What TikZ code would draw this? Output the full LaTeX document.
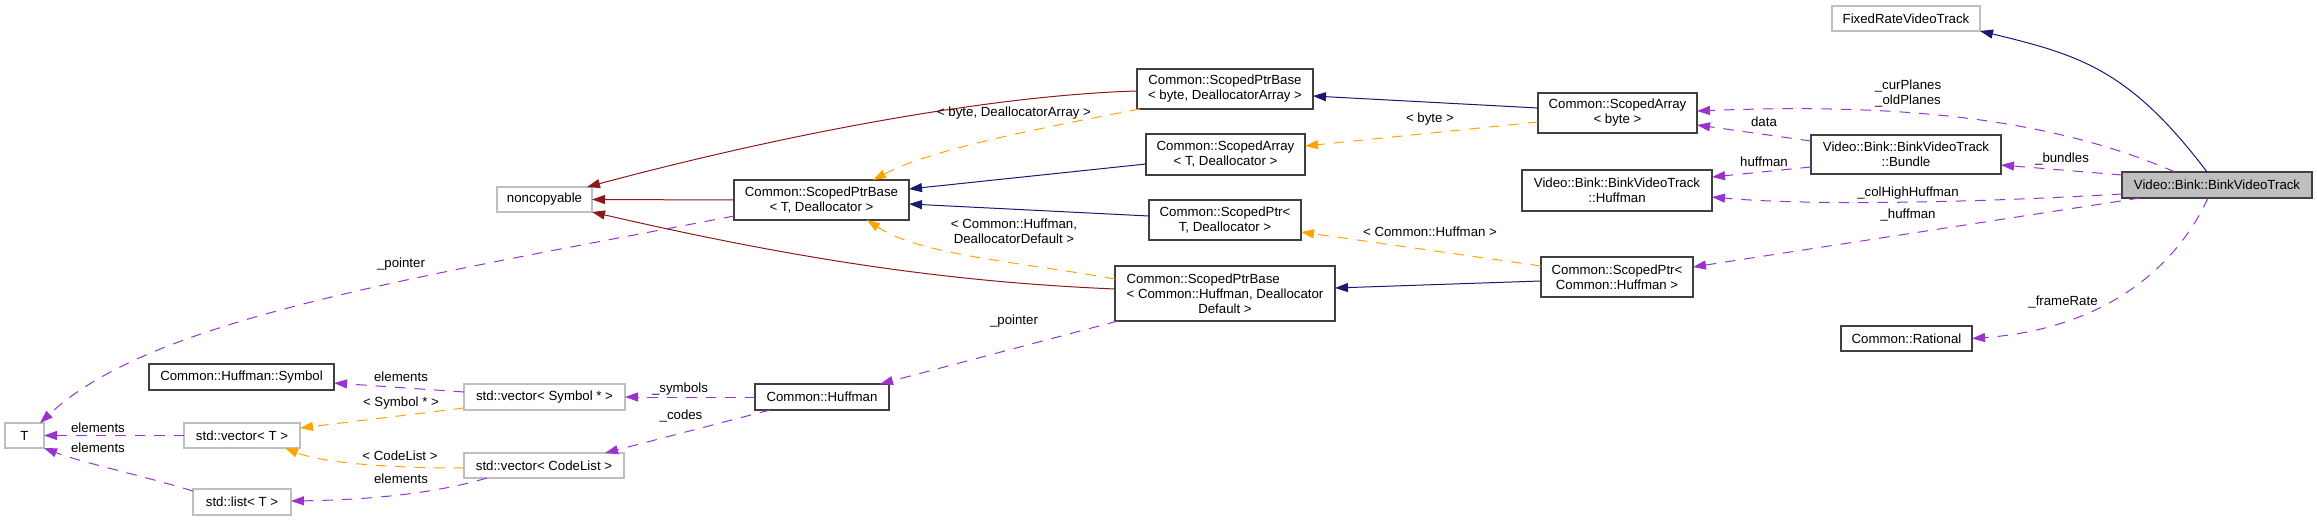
\documentclass[tikz,border=0pt]{standalone}
\usepackage{fontspec}
\setmainfont{Liberation Sans}
\usetikzlibrary{arrows.meta,calc}
\definecolor{inhblue}{HTML}{191970}
\definecolor{privred}{HTML}{8B1A1A}
\definecolor{tmplorange}{HTML}{FFA500}
\definecolor{usepurple}{HTML}{9A32CD}
\definecolor{extgrey}{HTML}{BFBFBF}
\begin{document}
\begin{tikzpicture}[x=1pt, y=-1pt,
        every node/.style = {align=center, inner sep=0pt, outer sep=0pt,
            font=\fontsize{13.25}{15}\selectfont},
        cls/.style = {draw=black!75, line width=1.3pt},
        ext/.style = {draw=extgrey, line width=1.1pt},
        main/.style = {cls, fill=extgrey},
        inh/.style = {draw=inhblue, line width=1pt, -{Triangle[length=13pt,width=9pt]}},
        priv/.style = {draw=privred, line width=1pt, -{Triangle[length=13pt,width=9pt]}},
        tmpl/.style = {draw=tmplorange, line width=1pt, dash pattern=on 10.5pt off 9pt,
            -{Triangle[length=13pt,width=9pt]}},
        use/.style = {draw=usepurple, line width=1pt, dash pattern=on 10.5pt off 9pt,
            -{Triangle[length=13pt,width=9pt]}}]
    \useasboundingbox (0,0) rectangle (2317,521);

    \node[ext, minimum width=95, minimum height=25] (nc) at (544.5,199.5) {noncopyable};
    \node[ext, minimum width=39, minimum height=25] (T) at (24.5,435.5) {T};
    \node[cls, minimum width=185, minimum height=26] (sym) at (241.5,377) {Common::Huffman::Symbol};
    \node[ext, minimum width=116, minimum height=25] (vecT) at (242,435.5) {std::vector< T >};
    \node[ext, minimum width=98, minimum height=26] (listT) at (242,502) {std::list< T >};
    \node[ext, minimum width=161, minimum height=26] (vecSym) at (544.5,397) {std::vector< Symbol * >};
    \node[ext, minimum width=160, minimum height=25] (vecCode) at (544,465.5) {std::vector< CodeList >};
    \node[cls, minimum width=134, minimum height=26] (huff) at (822,397) {Common::Huffman};
    \node[cls, minimum width=175, minimum height=40] (spbT) at (821.5,200) {Common::ScopedPtrBase\\< T, Deallocator >};
    \node[cls, minimum width=176, minimum height=40] (spbByte) at (1225,89) {Common::ScopedPtrBase\\< byte, DeallocatorArray >};
    \node[cls, minimum width=159, minimum height=41] (saT) at (1225.5,154.5) {Common::ScopedArray\\< T, Deallocator >};
    \node[cls, minimum width=152, minimum height=40] (spT) at (1225,220) {Common::ScopedPtr<\\T, Deallocator >};
    \node[cls, minimum width=220, minimum height=55] (spbHuff) at (1225,293.5)
        {\begin{tabular}[b]{@{}l@{}}Common::ScopedPtrBase\\< Common::Huffman, Deallocator\end{tabular}\\Default >};
    \node[cls, minimum width=159, minimum height=40] (saByte) at (1617.5,113) {Common::ScopedArray\\< byte >};
    \node[cls, minimum width=190, minimum height=41] (bvtHuff) at (1617,190.5) {Video::Bink::BinkVideoTrack\\::Huffman};
    \node[cls, minimum width=152, minimum height=40] (spHuff) at (1617,277) {Common::ScopedPtr<\\Common::Huffman >};
    \node[ext, minimum width=148, minimum height=25] (fixed) at (1906,18.5) {FixedRateVideoTrack};
    \node[cls, minimum width=190, minimum height=39] (bundle) at (1906,154.5) {Video::Bink::BinkVideoTrack\\::Bundle};
    \node[cls, minimum width=131, minimum height=25] (rational) at (1906.5,338.5) {Common::Rational};
    \node[main, minimum width=190, minimum height=26] (bvt) at (2217,185) {Video::Bink::BinkVideoTrack};

    \draw[inh] ($(bvt.north)+(-10,0)$) .. controls (2130,70) and (2080,55) .. (fixed.south east);
    \draw[inh] ($(saByte.west)+(0,-5)$) -- ($(spbByte.east)+(0,7)$);
    \draw[inh] ($(saT.west)+(0,9.5)$) -- ($(spbT.east)+(0,-11)$);
    \draw[inh] ($(spT.west)+(0,-4)$) -- ($(spbT.east)+(0,4)$);
    \draw[inh] ($(spHuff.west)+(0,4)$) -- ($(spbHuff.east)+(0,-5.5)$);

    \draw[priv] ($(spbByte.west)+(0,2)$) .. controls (1000,95) and (800,130) .. ($(nc.north east)+(-5,0)$);
    \draw[priv] (spbT.west) -- (nc.east);
    \draw[priv] ($(spbHuff.west)+(0,-4.5)$) .. controls (950,282) and (800,260) .. (nc.south east);

    \draw[tmpl] ($(spbByte.south west)+(3,0)$) .. controls (1030,130) and (930,150) .. ($(spbT.north)+(51.5,0)$);
    \draw[tmpl] ($(saByte.west)+(0,9)$) -- ($(saT.east)+(0,-8.5)$);
    \draw[tmpl] ($(spbHuff.west)+(0,-14.5)$) .. controls (1020,262) and (920,255) .. ($(spbT.south)+(45.5,0)$);
    \draw[tmpl] ($(spHuff.west)+(0,-11)$) -- ($(spT.east)+(0,12)$);
    \draw[tmpl] ($(vecSym.west)+(0,11)$) -- ($(vecT.east)+(0,-7.5)$);
    \draw[tmpl] ($(vecCode.west)+(0,2.5)$) .. controls (380,468) and (320,462) .. ($(vecT.south)+(43,0)$);

    \draw[use] ($(spbT.west)+(0,16)$) .. controls (400,280) and (150,320) .. ($(T.north)+(15.5,0)$);
    \draw[use] ($(spbHuff.south west)+(3,0)$) -- ($(huff.north)+(58,0)$);
    \draw[use] ($(vecSym.west)+(0,-5)$) -- ($(sym.east)+(0,6)$);
    \draw[use] (vecT.west) -- (T.east);
    \draw[use] ($(listT.north west)+(0,2)$) .. controls (140,475) and (80,462) .. (T.south east);
    \draw[use] ($(vecCode.south west)+(23,0)$) .. controls (430,495) and (360,500) .. ($(listT.east)+(0,-1)$);
    \draw[use] (huff.west) -- (vecSym.east);
    \draw[use] ($(huff.south west)+(15,0)$) -- ($(vecCode.north)+(61,0)$);
    \draw[use] ($(bvt.north)+(-42,0)$) .. controls (2050,118) and (1900,103) .. ($(saByte.east)+(0,-2)$);
    \draw[use] ($(bundle.west)+(0,-13.5)$) -- ($(saByte.east)+(0,12)$);
    \draw[use] ($(bundle.west)+(0,12.5)$) -- ($(bvtHuff.east)+(0,-13.5)$);
    \draw[use] ($(bvt.west)+(0,-10)$) -- ($(bundle.east)+(0,10.5)$);
    \draw[use] ($(bvt.west)+(0,9)$) .. controls (1950,204) and (1800,205) .. ($(bvtHuff.east)+(0,6.5)$);
    \draw[use] ($(bvt.south)+(-77,0)$) -- ($(spHuff.east)+(0,-10)$);
    \draw[use] ($(bvt.south)+(-9,0)$) .. controls (2170,280) and (2090,330) .. (rational.east);

    \node (lByteArr) at (1014,113) {< byte, DeallocatorArray >};
    \node (lByte) at (1430,119) {< byte >};
    \node (lHuffDef) at (1014,231) {< Common::Huffman,\\DeallocatorDefault >};
    \node (lHuff) at (1430,232) {< Common::Huffman >};
    \node (lPtrT) at (401,264) {\_pointer};
    \node (lPtrHuff) at (1014,321) {\_pointer};
    \node (lElSym) at (401,377) {elements};
    \node (lSymPtr) at (401,403) {< Symbol * >};
    \node (lElVec) at (98,428) {elements};
    \node (lElList) at (98,448) {elements};
    \node (lCode) at (400,456) {< CodeList >};
    \node (lElCode) at (401,479) {elements};
    \node (lSymbols) at (680,389) {\_symbols};
    \node (lCodes) at (681,416) {\_codes};
    \node (lPlanes) at (1908,94) {\_curPlanes\\\_oldPlanes};
    \node (lData) at (1764,122) {data};
    \node (lHuffman) at (1764,162) {huffman};
    \node (lBundles) at (2062,159) {\_bundles};
    \node (lColHigh) at (1908,193) {\_colHighHuffman};
    \node (lHuffPtr) at (1908,215) {\_huffman};
    \node (lFrame) at (2063,302) {\_frameRate};
\end{tikzpicture}
\end{document}
